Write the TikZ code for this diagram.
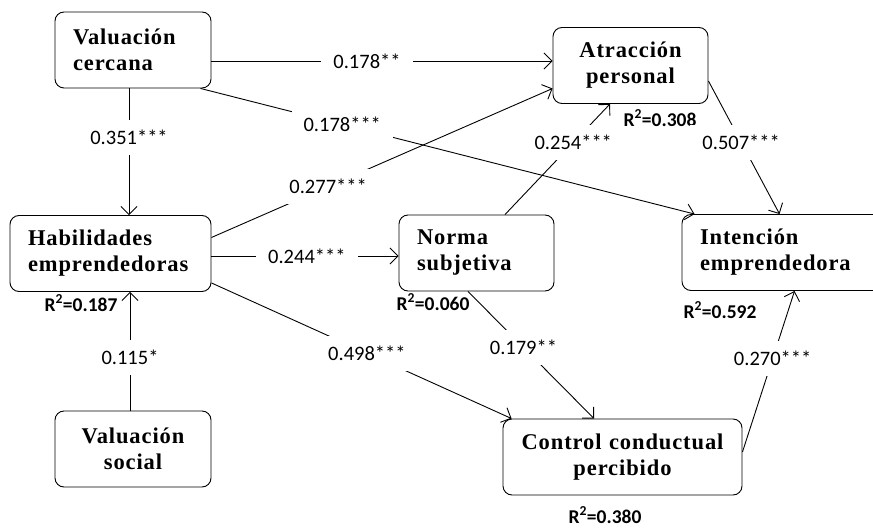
\documentclass[tikz,border=0pt]{standalone}
\usepackage{fontspec}
\setmainfont[LetterSpace=4]{Liberation Serif}
\newfontfamily\numfont{Carlito}
\usetikzlibrary{arrows.meta}

\tikzset{
  box/.style={draw, rounded corners=9pt, line width=0.9pt, minimum height=76pt, inner xsep=18pt, font=\fontsize{22.5}{26}\selectfont\bfseries},
  arr/.style={-{Straight Barb[length=8pt,width=16pt]}, line width=0.9pt},
  coef/.style={fill=white, inner xsep=12pt, inner ysep=10pt, font=\numfont\fontsize{20.5}{22}\selectfont},
  rsq/.style={font=\numfont\bfseries\fontsize{19.5}{22}\selectfont}
}

\begin{document}
\begin{tikzpicture}[x=1pt, y=-1pt]
        \useasboundingbox (0,0) rectangle (873,529);

        \node [box, text width=120pt, align=left] (vc) at (133,50) {Valuación\\cercana};
        \node [box, text width=165pt, align=left] (hab) at (110.5,253.5) {Habilidades\\emprendedoras};
        \node [box, text width=120pt, align=center] (vs) at (133,449) {Valuación\\social};
        \node [box, text width=119pt, align=left] (ns) at (476.5,253) {Norma\\subjetiva};
        \node [box, text width=119pt, align=center] (ap) at (630.5,65.5) {Atracción\\personal};
        \node [box, text width=184pt, align=left] (ie) at (792,252.5) {Intención\\emprendedora};
        \node [box, text width=203pt, align=center] (ccp) at (622.5,457) {Control conductual\\percibido};

        \node [rsq] (r2ap) at (660,118) {R\textsuperscript{2}=0.308};
        \node [rsq] (r2hab) at (81,303) {R\textsuperscript{2}=0.187};
        \node [rsq] (r2ns) at (433,302) {R\textsuperscript{2}=0.060};
        \node [rsq] (r2ie) at (720,310) {R\textsuperscript{2}=0.592};
        \node [rsq] (r2ccp) at (605,515) {R\textsuperscript{2}=0.380};

        \draw [arr] ([yshift=-11pt]vc.east) -- node[coef, pos=0.456] {0.178**} ([yshift=-11pt]vc.east -| ap.west);
        \draw [arr] ([xshift=-11pt]vc.south east) -- node[coef, pos=0.287] {0.178***} ([xshift=13pt]ie.north west);
        \draw [arr] ([xshift=-4pt]vc.south) -- node[coef, pos=0.386] {0.351***} ([xshift=-4pt]vc.south |- hab.north);
        \draw [arr] ([yshift=16pt]hab.east) -- node[coef, pos=0.342] {0.277***} ([yshift=-23pt]ap.west);
        \draw [arr] ([yshift=-2.5pt]hab.east) -- node[coef, pos=0.51] {0.244***} ([yshift=-2.5pt]hab.east -| ns.west);
        \draw [arr] ([yshift=9pt]hab.south east) -- node[coef, pos=0.518] {0.498***} ([xshift=9pt]ccp.north west);
        \draw [arr] ([xshift=-3pt]vs.north) -- node[coef, pos=0.445] {0.115*} ([xshift=-3pt]vs.north |- hab.south);
        \draw [arr] ([xshift=28.5pt]ns.north) -- node[coef, pos=0.65] {0.254***} ([xshift=-20.5pt]ap.south);
        \draw [arr] ([xshift=-8.5pt]ns.south) -- node[coef, pos=0.44] {0.179**} ([xshift=-28.5pt]ccp.north);
        \draw [arr] ([yshift=-15.5pt]ap.east) -- node[coef, pos=0.46] {0.507***} ([xshift=98pt]ie.north west);
        \draw [arr] ([yshift=5pt]ccp.east) -- node[coef, pos=0.58] {0.270***} ([xshift=113pt]ie.south west);
\end{tikzpicture}
\end{document}
